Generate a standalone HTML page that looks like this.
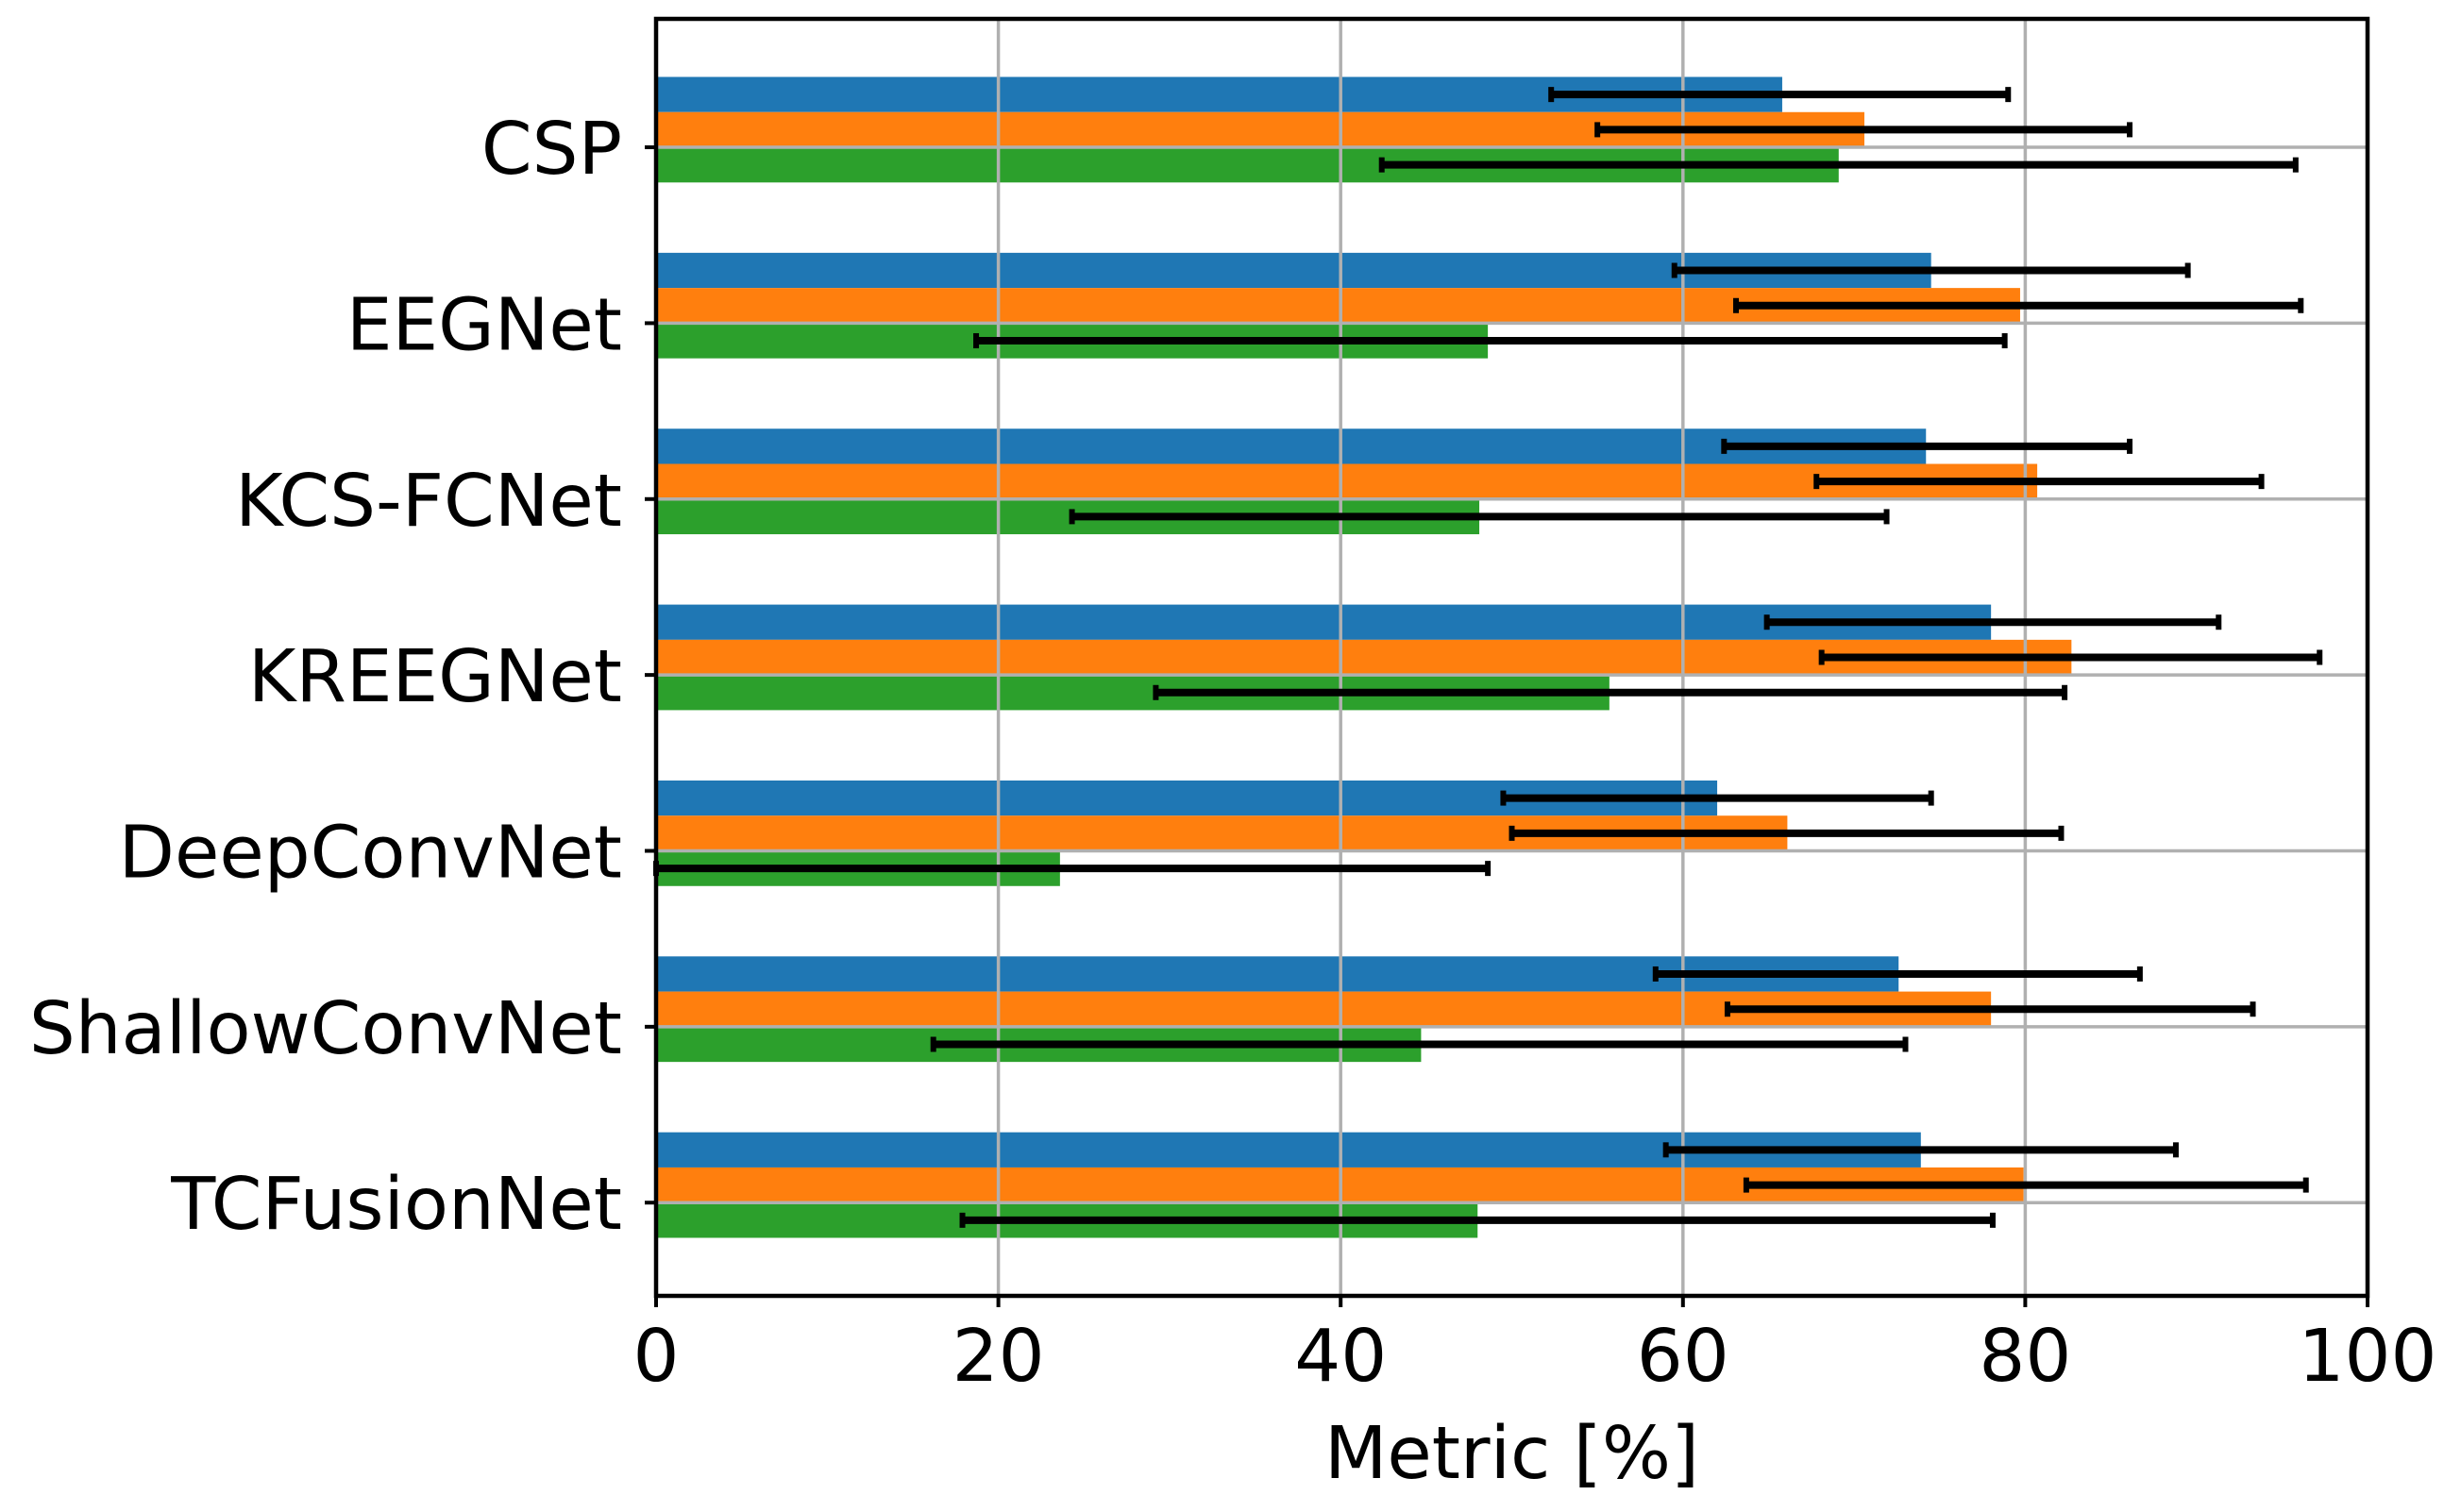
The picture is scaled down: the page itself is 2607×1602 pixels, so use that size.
<!DOCTYPE html>
<html><head><meta charset="utf-8"><style>
html,body{margin:0;padding:0;background:#fff;}
svg{display:block;font-family:"DejaVu Sans","Liberation Sans",sans-serif;}
</style></head><body>
<svg id="chart" width="2607" height="1602" viewBox="0 0 2607 1602"></svg>
<script>
const categories=["CSP","EEGNet","KCS-FCNet","KREEGNet","DeepConvNet","ShallowConvNet","TCFusionNet"];
const blueVals=[65.8,74.5,74.2,78.0,62.0,72.6,73.9];
const blueLo=[52.3,59.5,62.4,64.9,49.5,58.4,59.0];
const blueHi=[79.0,89.5,86.1,91.3,74.5,86.7,88.8];
const orangeVals=[70.6,79.7,80.7,82.7,66.1,78.0,79.9];
const orangeLo=[55.0,63.1,67.8,68.1,50.0,62.6,63.7];
const orangeHi=[86.1,96.1,93.8,97.2,82.1,93.3,96.4];
const greenVals=[69.1,48.6,48.1,55.7,23.6,44.7,48.0];
const greenLo=[42.4,18.7,24.3,29.2,-0.5,16.2,17.9];
const greenHi=[95.8,78.8,71.9,82.3,48.6,73.0,78.1];
const xTicks=[0,20,40,60,80,100];

const NS="http://www.w3.org/2000/svg";
const svg=document.getElementById('chart');
const L=695,R=2508,T=20,B=1373;
const yMin=-0.73,yMax=6.53;
function xs(v){return L+(v/100)*(R-L);}
function ys(v){return T+(v-yMin)/(yMax-yMin)*(B-T);}
function mk(tag,attrs){const e=document.createElementNS(NS,tag);for(const k in attrs)e.setAttribute(k,attrs[k]);svg.appendChild(e);return e;}

const series=[[blueVals,blueLo,blueHi,"#1f77b4",-0.3,"blue"],[orangeVals,orangeLo,orangeHi,"#ff7f0e",-0.1,"orange"],[greenVals,greenLo,greenHi,"#2ca02c",0.1,"green"]];
const bh=0.2;
series.forEach(s=>{
  categories.forEach((c,i)=>{
    const y0=ys(i+s[4]-bh/2),y1=ys(i+s[4]+bh/2);
    const r=mk('rect',{x:xs(0),y:y0,width:xs(Math.max(s[0][i],0))-xs(0),height:y1-y0,fill:s[3]});
    
    
  });
});
xTicks.forEach(t=>{
  const g=mk('line',{x1:xs(t),x2:xs(t),y1:T,y2:B,stroke:'#b0b0b0','stroke-width':3.5});
  
  
});
categories.forEach((c,i)=>{
  const g=mk('line',{x1:L,x2:R,y1:ys(i),y2:ys(i),stroke:'#b0b0b0','stroke-width':3.5});
  
  
});
series.forEach(s=>{
  categories.forEach((c,i)=>{
    const y=ys(i+s[4]);
    const a=xs(Math.max(s[1][i],0)),b=xs(s[2][i]);
    const e=mk('line',{x1:a,x2:b,y1:y,y2:y,stroke:'#000','stroke-width':8});
    
    
    [a,b].forEach(x=>{
      const cp=mk('line',{x1:x,x2:x,y1:y-8,y2:y+8,stroke:'#000','stroke-width':6});
      
      
    });
  });
});
const sp=mk('rect',{x:L,y:T,width:R-L,height:B-T,fill:'none',stroke:'#000','stroke-width':4.5});


categories.forEach((c,i)=>{
  const tk=mk('line',{x1:L-12,x2:L,y1:ys(i),y2:ys(i),stroke:'#000','stroke-width':4});
  
  
  const t=mk('text',{x:L-36,y:ys(i)+28,'text-anchor':'end','font-size':77,fill:'#000'});
  t.textContent=c;
  
  
});
xTicks.forEach(v=>{
  const tk=mk('line',{x1:xs(v),x2:xs(v),y1:B,y2:B+12,stroke:'#000','stroke-width':4});
  
  
  const t=mk('text',{x:xs(v),y:B+90,'text-anchor':'middle','font-size':77,fill:'#000'});
  t.textContent=String(v);
  
  
});
const xt=mk('text',{x:(L+R)/2,y:1566,'text-anchor':'middle','font-size':77,fill:'#000'});
xt.textContent='Metric [%]';


</script>
</body></html>
